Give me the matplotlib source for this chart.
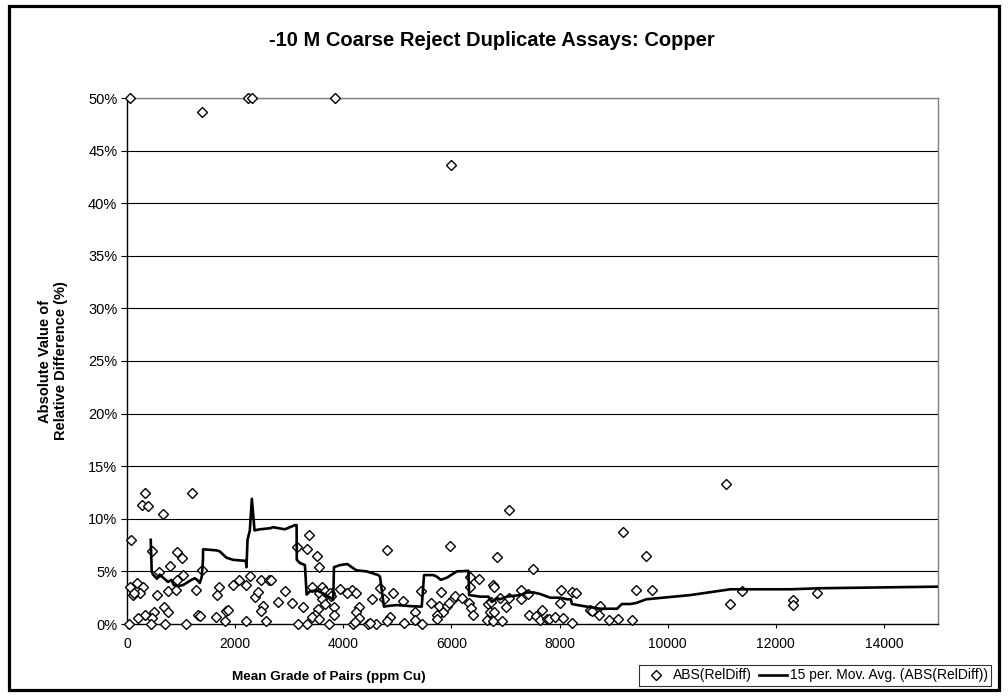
import matplotlib
matplotlib.use("Agg")
import matplotlib.pyplot as plt
from matplotlib.lines import Line2D
from matplotlib.patches import Rectangle
from matplotlib.ticker import FuncFormatter

plt.rcParams['font.family'] = ['Liberation Sans', 'DejaVu Sans']

title = "-10 M Coarse Reject Duplicate Assays: Copper"
x_label = "Mean Grade of Pairs (ppm Cu)"
y_label = "Absolute Value of\nRelative Difference (%)"
scatter_name = "ABS(RelDiff)"
line_name = "15 per. Mov. Avg. (ABS(RelDiff))"

# Mean grade of pairs (ppm Cu)
grade = [
    50, 1389, 2241, 2321, 3846, 6000,
    340, 1193, 285, 396, 667, 69, 457, 926, 1013, 791, 593, 1037, 1396, 185,
    50, 296, 248, 111, 130, 556, 759, 926, 902, 1285, 1704, 1667, 1963, 2074,
    2198, 2272, 2481, 2618, 2365, 2420, 2519, 2470, 333, 211, 494, 457, 692,
    767, 1309, 1346, 1643, 1840, 1877, 1815, 31, 444, 704, 1087, 2198, 2580,
    3370, 3137, 3333, 3507, 3544, 4815, 2667, 2915, 2791, 3050, 3259, 3420,
    3606, 3556, 3667, 3754, 3778, 3939, 3606, 3667, 3531, 3483, 3420, 3544,
    3828, 3828, 3161, 3322, 3730, 4161, 4235, 4074, 4285, 4235, 4285, 4174,
    4211, 4531, 4457, 4606, 4494, 4679, 4753, 4914, 5111, 4865, 4815, 5124,
    7063, 5976, 6841, 7500, 5444, 5333, 5333, 5457, 5619, 5804, 5778, 5852,
    5730, 5741, 6037, 6074, 6198, 5915, 5952, 6346, 6507, 6346, 6321, 6370,
    6407, 6766, 6791, 6680, 6729, 6902, 7013, 7063, 6717, 6791, 6667, 6778,
    6939, 7296, 7420, 7285, 7444, 7568, 7680, 7630, 7766,
    9167, 9593, 8025, 8235, 8309, 8013, 7803, 7914, 8062, 8222, 8568, 8605,
    8741, 8728, 8914, 9087, 9346, 9420, 9716,
    11087, 11383, 11148, 12309, 12309, 12753,
]
# Absolute relative difference (%)
abs_rel_diff = [
    50.0, 48.7, 50.0, 50.0, 50.0, 43.6,
    12.5, 12.5, 11.3, 11.2, 10.5, 8.0, 6.9, 6.8, 6.3, 5.5, 4.9, 4.7, 5.1, 3.9,
    3.5, 3.5, 2.9, 2.8, 2.9, 2.8, 3.1, 4.2, 3.2, 3.2, 3.5, 2.8, 3.7, 4.2,
    3.7, 4.6, 4.2, 4.2, 2.6, 3.0, 1.7, 1.2, 0.9, 0.6, 1.1, 0.6, 1.6,
    1.1, 0.9, 0.8, 0.7, 1.2, 1.3, 0.3, 0.0, 0.0, 0.0, 0.0, 0.25, 0.3,
    8.5, 7.3, 7.1, 6.5, 5.4, 7.0, 4.2, 3.1, 2.1, 2.0, 1.6, 3.5,
    3.5, 2.9, 3.1, 2.9, 2.7, 3.3, 2.4, 1.9, 1.4, 0.85, 0.7, 0.5,
    1.6, 0.85, 0.0, 0.0, 0.0, 3.2, 2.9, 2.9, 1.6, 1.15, 0.6, 0.0,
    0.2, 2.4, 0.0, 0.0, 0.1, 3.4, 2.4, 2.9, 2.2, 0.65, 0.3, 0.05,
    10.8, 7.4, 6.4, 5.2, 3.1, 1.1, 0.4, 0.0, 2.0, 3.0, 1.7, 1.1,
    0.85, 0.45, 2.4, 2.7, 2.5, 1.7, 2.0, 4.5, 4.3, 3.5, 2.0, 1.5,
    0.85, 3.7, 3.5, 1.9, 2.1, 2.5, 1.6, 2.5, 1.1, 1.1, 0.4, 0.3,
    0.25, 3.2, 2.85, 2.4, 0.85, 0.75, 1.3, 0.4, 0.45,
    8.7, 6.5, 3.2, 3.0, 2.9, 2.0, 0.5, 0.7, 0.6, 0.05, 1.3, 1.2,
    1.7, 0.9, 0.4, 0.45, 0.4, 3.2, 3.2,
    13.3, 3.1, 1.9, 2.3, 1.8, 2.9,
]

# 15-period moving average
ma_grade = [
    439, 457, 481, 556, 605, 680, 759, 822, 865, 944, 1037, 1130, 1193, 1254,
    1296, 1346, 1383, 1405, 1407, 1655, 1716, 1840, 1963, 2198, 2210, 2229,
    2272, 2309, 2359, 2457, 2643, 2704, 2920, 3106, 3137, 3140, 3198, 3291,
    3322, 3383, 3507, 3630, 3722, 3785, 3815, 3828, 3939, 4074, 4185, 4247,
    4433, 4556, 4648, 4679, 4753, 4803, 4988, 5235, 5451, 5494, 5667, 5730,
    5804, 5915, 6100, 6315, 6328, 6531, 6685, 6748, 6841, 6902, 7026, 7272,
    7396, 7519, 7642, 7828, 8013, 8136, 8210, 8229, 8444, 8753, 9062, 9154,
    9309, 9420, 9605, 10420, 11161, 12272, 12827, 15000,
]
ma_value = [
    8.0, 5.0, 4.7, 4.3, 4.7, 4.35, 4.0, 4.2, 3.7, 3.6, 3.7, 4.0, 4.2, 4.35,
    4.2, 3.9, 4.5, 6.1, 7.1, 7.0, 6.9, 6.3, 6.1, 6.0, 5.4, 8.0,
    8.9, 11.9, 8.9, 9.0, 9.1, 9.2, 9.0, 9.4, 9.4, 6.1, 5.8, 5.6,
    2.8, 3.1, 3.2, 2.9, 2.6, 2.45, 2.3, 5.4, 5.6, 5.7, 5.3, 5.1,
    5.0, 4.8, 4.65, 4.5, 1.65, 1.7, 1.8, 1.7, 1.65, 4.65, 4.65, 4.5,
    4.2, 4.4, 5.0, 5.05, 2.75, 2.6, 2.6, 2.1, 2.45, 2.35, 2.6, 2.75,
    3.0, 3.0, 2.85, 2.5, 2.5, 2.35, 2.35, 1.9, 1.7, 1.45, 1.45, 1.9,
    1.9, 2.0, 2.35, 2.75, 3.3, 3.3, 3.4, 3.55,
]

x_ticks = [0, 2000, 4000, 6000, 8000, 10000, 12000, 14000]
y_ticks = [0, 5, 10, 15, 20, 25, 30, 35, 40, 45, 50]

W, H = 1008, 696
fig = plt.figure(figsize=(W / 100, H / 100), dpi=100)
fig.patch.set_facecolor('white')

L, R, T, B = 127, 938, 98, 624
ax = fig.add_axes([L / W, 1 - B / H, (R - L) / W, (B - T) / H])

for y in y_ticks[1:]:
    ax.axhline(y, color='black', lw=0.8, zorder=1)

ax.plot(grade, abs_rel_diff, linestyle='none', marker='D', markersize=5.2,
        markerfacecolor='white', markeredgecolor='black', markeredgewidth=1.0,
        zorder=3, clip_on=False)
ax.plot(ma_grade, ma_value, color='black', lw=1.9, zorder=4)

ax.set_xlim(0, 15000)
ax.set_ylim(0, 50)
ax.set_xticks(x_ticks)
ax.set_yticks(y_ticks)
ax.yaxis.set_major_formatter(FuncFormatter(lambda v, p: f"{v:.0f}%"))
ax.tick_params(axis='both', labelsize=10, direction='out', color='black')
ax.tick_params(axis='y', length=4, width=0.8, pad=3, labelsize=10.5)
ax.tick_params(axis='x', length=3, width=0.8, pad=6)

for s in ['left', 'bottom']:
    ax.spines[s].set_color('black')
    ax.spines[s].set_linewidth(1.0)
for s in ['top', 'right']:
    ax.spines[s].set_color('#808080')
    ax.spines[s].set_linewidth(1.0)

fig.text(492 / W, 1 - 40 / H, title, ha='center', va='center',
         fontsize=14.5, fontweight='bold')
fig.text(53 / W, 1 - 361 / H, y_label, ha='center', va='center',
         rotation=90, fontsize=10.5, fontweight='bold', multialignment='center',
         linespacing=1.2)
fig.text(329 / W, 1 - 677 / H, x_label, ha='center', va='center',
         fontsize=9.7, fontweight='bold')

handles = [
    Line2D([], [], linestyle='none', marker='D', markersize=5.2,
           markerfacecolor='white', markeredgecolor='black', markeredgewidth=1.0),
    Line2D([], [], color='black', lw=1.9),
]
leg = fig.legend(handles, [scatter_name, line_name], loc='center',
                 bbox_to_anchor=((634 + 996) / 2 / W, 1 - (664 + 687) / 2 / H),
                 ncol=2, fontsize=10, frameon=True, fancybox=False,
                 edgecolor='black', handlelength=2.0, handletextpad=0.25,
                 columnspacing=0.5, borderpad=0.22, borderaxespad=0)
leg.get_frame().set_linewidth(0.8)

fig.patches.append(Rectangle((9 / W, 6 / H), (999 - 9) / W, (690 - 6) / H,
                             transform=fig.transFigure, fill=False,
                             edgecolor='black', lw=2.3))

fig.savefig('out.png', dpi=100)
